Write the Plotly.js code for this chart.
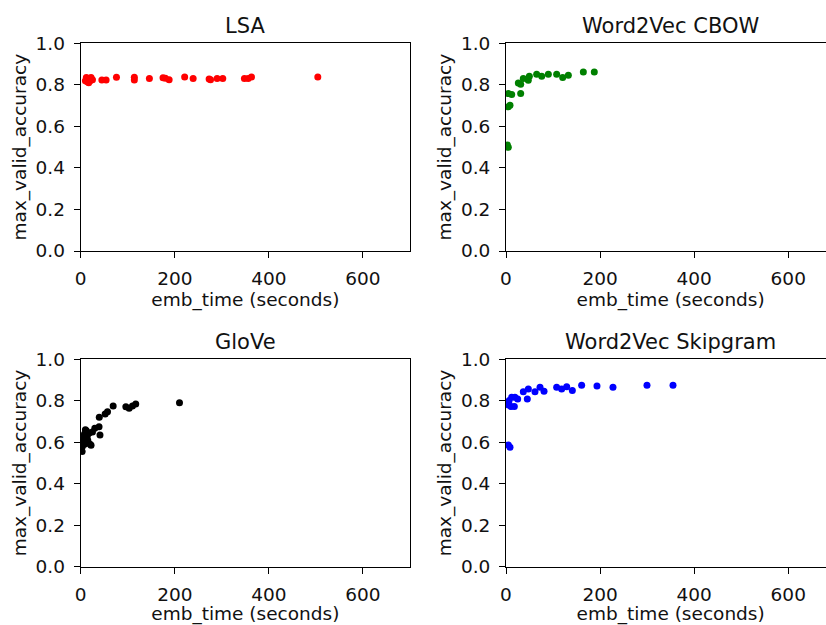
<!DOCTYPE html>
<html>
<head>
<meta charset="utf-8">
<script src="https://cdn.plot.ly/plotly-3.0.1.min.js"></script>
<style>
html, body { margin: 0; padding: 0; overflow: hidden; background: #fff; }
#chart { width: 840px; height: 625px; }
</style>
</head>
<body>
<div id="chart"></div>
<script>
// ---- data ----
const panelTitles = ["LSA", "Word2Vec CBOW", "GloVe", "Word2Vec Skipgram"];
const xLabel = "emb_time (seconds)";
const yLabel = "max_valid_accuracy";
const xTicks = [0, 200, 400, 600];
const yTicks = [0.0, 0.2, 0.4, 0.6, 0.8, 1.0];
const yTickText = ["0.0", "0.2", "0.4", "0.6", "0.8", "1.0"];

const lsaX = [10, 12, 14, 15, 17, 18, 20, 22, 25, 45, 54, 76, 114, 114, 146, 175, 180, 188, 221, 239, 273, 276, 290, 302, 348, 356, 363, 504];
const lsaY = [0.82, 0.835, 0.815, 0.825, 0.81, 0.83, 0.82, 0.835, 0.825, 0.823, 0.823, 0.836, 0.836, 0.823, 0.831, 0.834, 0.832, 0.825, 0.838, 0.830, 0.828, 0.824, 0.831, 0.831, 0.830, 0.831, 0.838, 0.838];

const cbowX = [2.8, 4.9, 4.9, 8.5, 4.9, 12.1, 31.2, 26.2, 31.2, 36.8, 47.4, 49.6, 65.2, 75.9, 90, 107.7, 120.5, 132.5, 164.4, 187.7];
const cbowY = [0.51, 0.499, 0.694, 0.702, 0.758, 0.753, 0.758, 0.809, 0.803, 0.830, 0.822, 0.841, 0.851, 0.841, 0.851, 0.851, 0.835, 0.846, 0.862, 0.862];

const gloveX = [3, 3.5, 4, 5, 6, 8, 8, 10, 12, 12, 14, 15, 18, 20, 22, 25, 30, 39, 41, 39.5, 52, 57, 69, 96, 103, 110, 117, 210];
const gloveY = [0.555, 0.58, 0.60, 0.627, 0.62, 0.64, 0.59, 0.66, 0.655, 0.60, 0.63, 0.61, 0.645, 0.59, 0.585, 0.65, 0.667, 0.675, 0.635, 0.72, 0.736, 0.747, 0.775, 0.771, 0.764, 0.775, 0.784, 0.791];

const skipX = [5, 8.5, 5, 10.6, 17.7, 6.4, 12, 19, 24.8, 45.3, 36.8, 47.5, 61.6, 72.3, 80.8, 107.7, 118.3, 129, 141, 160.8, 193.4, 227.4, 299.7, 355];
const skipY = [0.587, 0.576, 0.78, 0.772, 0.772, 0.80, 0.817, 0.817, 0.809, 0.809, 0.844, 0.857, 0.844, 0.865, 0.846, 0.865, 0.857, 0.868, 0.849, 0.875, 0.871, 0.865, 0.875, 0.875];

const colors = ["#ff0000", "#008000", "#000000", "#0000ff"];

// ---- build ----
const W = 840, H = 625;
const series = [[lsaX, lsaY], [cbowX, cbowY], [gloveX, gloveY], [skipX, skipY]];
const axIds = [["x", "y"], ["x2", "y2"], ["x3", "y3"], ["x4", "y4"]];
const traces = series.map((s, i) => ({
  type: "scatter", mode: "markers",
  x: s[0], y: s[1],
  xaxis: axIds[i][0], yaxis: axIds[i][1],
  marker: { color: colors[i], size: 7 },
  showlegend: false, hoverinfo: "skip"
}));

const font = { family: "DejaVu Sans, sans-serif", size: 18.5, color: "#111" };
const colPx = [[80.7, 410], [506, 835.3]];
const rowPx = [[43.3, 251], [359.3, 566.7]];

function suffix(col, row) { const n = row * 2 + col + 1; return n === 1 ? "" : String(n); }

function xa(col, row) {
  return {
    domain: [colPx[col][0] / W, colPx[col][1] / W],
    anchor: "y" + suffix(col, row),
    range: [0, 700], tickvals: xTicks, ticks: "outside", ticklen: 6, tickwidth: 1, tickcolor: "#000",
    ticklabelstandoff: 5,
    showline: true, linecolor: "#000", linewidth: 1, mirror: true,
    showgrid: false, zeroline: false, tickfont: font,
    title: { text: xLabel, font: font, standoff: 4 }
  };
}
function ya(col, row) {
  return {
    domain: [1 - rowPx[row][1] / H, 1 - rowPx[row][0] / H],
    anchor: "x" + suffix(col, row),
    range: [0, 1], tickvals: yTicks, ticktext: yTickText, ticks: "outside", ticklen: 6, tickwidth: 1, tickcolor: "#000",
    ticklabelstandoff: 5,
    showline: true, linecolor: "#000", linewidth: 1, mirror: true,
    showgrid: false, zeroline: false, tickfont: font,
    title: { text: yLabel, font: font, standoff: 4 }
  };
}

const layout = {
  width: W, height: H,
  margin: { l: 0, r: 0, t: 0, b: 0 },
  paper_bgcolor: "#fff", plot_bgcolor: "#fff",
  font: font,
  xaxis: xa(0, 0), yaxis: ya(0, 0),
  xaxis2: xa(1, 0), yaxis2: ya(1, 0),
  xaxis3: xa(0, 1), yaxis3: ya(0, 1),
  xaxis4: xa(1, 1), yaxis4: ya(1, 1),
  annotations: panelTitles.map((t, i) => ({
    text: t, showarrow: false,
    xref: "x" + (i === 0 ? "" : i + 1) + " domain",
    yref: "y" + (i === 0 ? "" : i + 1) + " domain",
    x: 0.5, y: 1, xanchor: "center", yanchor: "bottom", yshift: 3,
    font: { family: "DejaVu Sans, sans-serif", size: 21, color: "#111" }
  }))
};

Plotly.newPlot("chart", traces, layout, { staticPlot: true, displayModeBar: false });
</script>
</body>
</html>
